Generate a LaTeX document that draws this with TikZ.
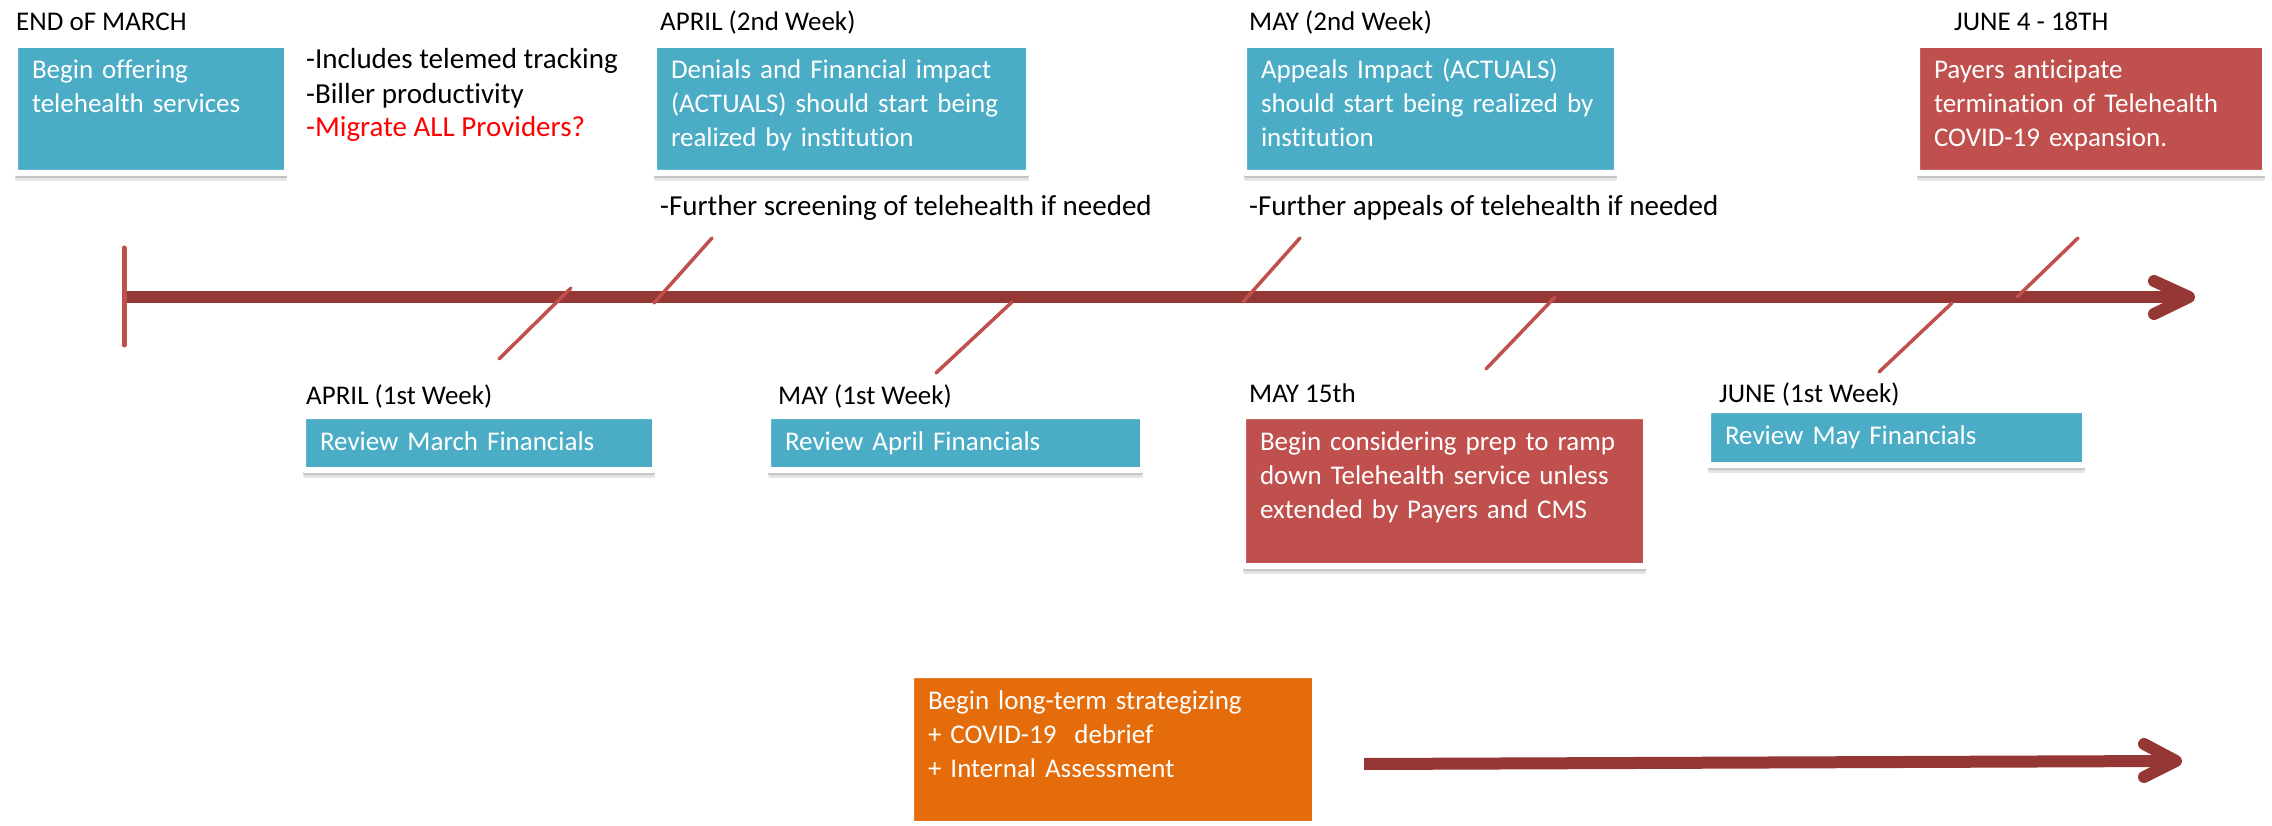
\documentclass[tikz,border=0pt]{standalone}
\usepackage{fontspec}
\setmainfont[Ligatures=NoCommon]{Carlito}
\usetikzlibrary{shadows}

\definecolor{aqua}{HTML}{4BACC6}
\definecolor{brick}{HTML}{C0504D}
\definecolor{pumpkin}{HTML}{E46C0A}
\definecolor{axisred}{HTML}{953735}
\definecolor{alertred}{HTML}{FF0000}

\begin{document}
\begin{tikzpicture}[x=1pt, y=-1pt, line cap=round, line join=round]
	\useasboundingbox (0,0) rectangle (2272,826);
	
	%======================
	% STYLES
	%======================
	\tikzset{
		card/.style={draw=white, line width=6pt, rounded corners=2pt, outer sep=0pt,
			text=white, align=left, inner xsep=17pt, inner ysep=6pt, text height=28pt,
			font=\fontsize{27}{34}\selectfont,
			drop shadow={shadow xshift=0pt, shadow yshift=-8pt, opacity=0.10, fill=black},
			drop shadow={shadow xshift=0pt, shadow yshift=-5pt, opacity=0.15, fill=black},
			drop shadow={shadow xshift=0pt, shadow yshift=0pt, shadow scale=1.01, opacity=0.08, fill=black}},
		datelabel/.style={anchor=base west, inner sep=0pt, font=\fontsize{27}{34}\selectfont},
		note/.style={anchor=base west, inner sep=0pt, font=\fontsize{29}{34}\selectfont},
		axisline/.style={line width=12pt, draw=axisred},
		tickline/.style={line width=3.5pt, draw=brick}
	}
	
	% name, colour, x, y, width, height, text (x,y,w,h of the coloured face)
	\newcommand{\eventbox}[7]{
		\pgfmathsetmacro{\boxw}{#5+6}
		\pgfmathsetmacro{\boxh}{#6+6}
		\pgfmathsetmacro{\boxtw}{#5-28}
		\pgfmathsetmacro{\boxtd}{#6-34}
		\node[card, fill=#2, anchor=north west, minimum width=\boxw pt, minimum height=\boxh pt,
		text width=\boxtw pt, text depth=\boxtd pt] (#1) at ({#3-3},{#4-3}) {#7};
	}
	
	% main time axis
	\coordinate (axisStart) at (124,297);
	\coordinate (axisTip) at (2189,297);
	\draw[axisline, line cap=butt] (axisStart) -- (2183,297);
	\draw[axisline] (2154,281) -- (axisTip) -- (2154,314);
	\draw[line width=5pt, draw=brick] (124,248) -- (124,345);
	
	% slanted week marks
	\foreach \xa/\ya/\xb/\yb in {654/303/712/238, 1243/302/1300/238, 2017/297/2078/238,
		571/288/499/359, 1012/302/936/373, 1555/297/1486/369, 1952/303/1879/372}
	\draw[tickline] (\xa,\ya) -- (\xb,\yb);
	
	% top row
	\node[datelabel] (lblMarch) at (16,31) {END oF MARCH};
	\eventbox{boxMarch}{aqua}{18}{48}{266}{122}{Begin offering\\telehealth services}
	\node[note] (noteTrack) at (306,69) {-Includes telemed tracking};
	\node[note] (noteBiller) at (306,104) {-Biller productivity};
	\node[note, text=alertred] (noteMigrate) at (306,137) {-Migrate ALL Providers?};
	
	\node[datelabel] (lblAprTwo) at (660,31) {APRIL (2nd Week)};
	\eventbox{boxAprTwo}{aqua}{657}{48}{369}{122}{Denials and Financial impact\\(ACTUALS) should start being\\realized by institution}
	\node[note] (noteScreen) at (660,216) {-Further screening of telehealth if needed};
	
	\node[datelabel] (lblMayTwo) at (1249,31) {MAY (2nd Week)};
	\eventbox{boxMayTwo}{aqua}{1247}{48}{367}{122}{Appeals Impact (ACTUALS)\\should start being realized by\\institution}
	\node[note] (noteAppeal) at (1249,216) {-Further appeals of telehealth if needed};
	
	\node[datelabel] (lblJuneEnd) at (1954,31) {JUNE 4 - 18TH};
	\eventbox{boxJuneEnd}{brick}{1920}{48}{342}{122}{Payers anticipate\\termination of Telehealth\\COVID-19 expansion.}
	
	% bottom row
	\node[datelabel] (lblAprOne) at (306,404) {APRIL (1st Week)};
	\eventbox{boxAprOne}{aqua}{306}{419}{346}{48}{Review March Financials}
	
	\node[datelabel] (lblMayOne) at (778,404) {MAY (1st Week)};
	\eventbox{boxMayOne}{aqua}{771}{419}{369}{48}{Review April Financials}
	
	\node[datelabel] (lblMayMid) at (1249,402) {MAY 15th};
	\eventbox{boxMayMid}{brick}{1246}{419}{397}{144}{Begin considering prep to ramp\\down Telehealth service unless\\extended by Payers and CMS}
	
	\node[datelabel] (lblJuneOne) at (1719,402) {JUNE (1st Week)};
	\eventbox{boxJuneOne}{aqua}{1711}{413}{371}{49}{Review May Financials}
	
	% long-term strategy
	\eventbox{boxLong}{pumpkin}{914}{678}{398}{143}{Begin long-term strategizing\\+ COVID-19\ \ debrief\\+ Internal Assessment}
	\coordinate (longStart) at (1364,764);
	\coordinate (longTip) at (2176,761);
	\draw[axisline, line cap=butt] (longStart) -- (2170,761);
	\draw[axisline] (2144,744) -- (longTip) -- (2144,777);
\end{tikzpicture}
\end{document}
